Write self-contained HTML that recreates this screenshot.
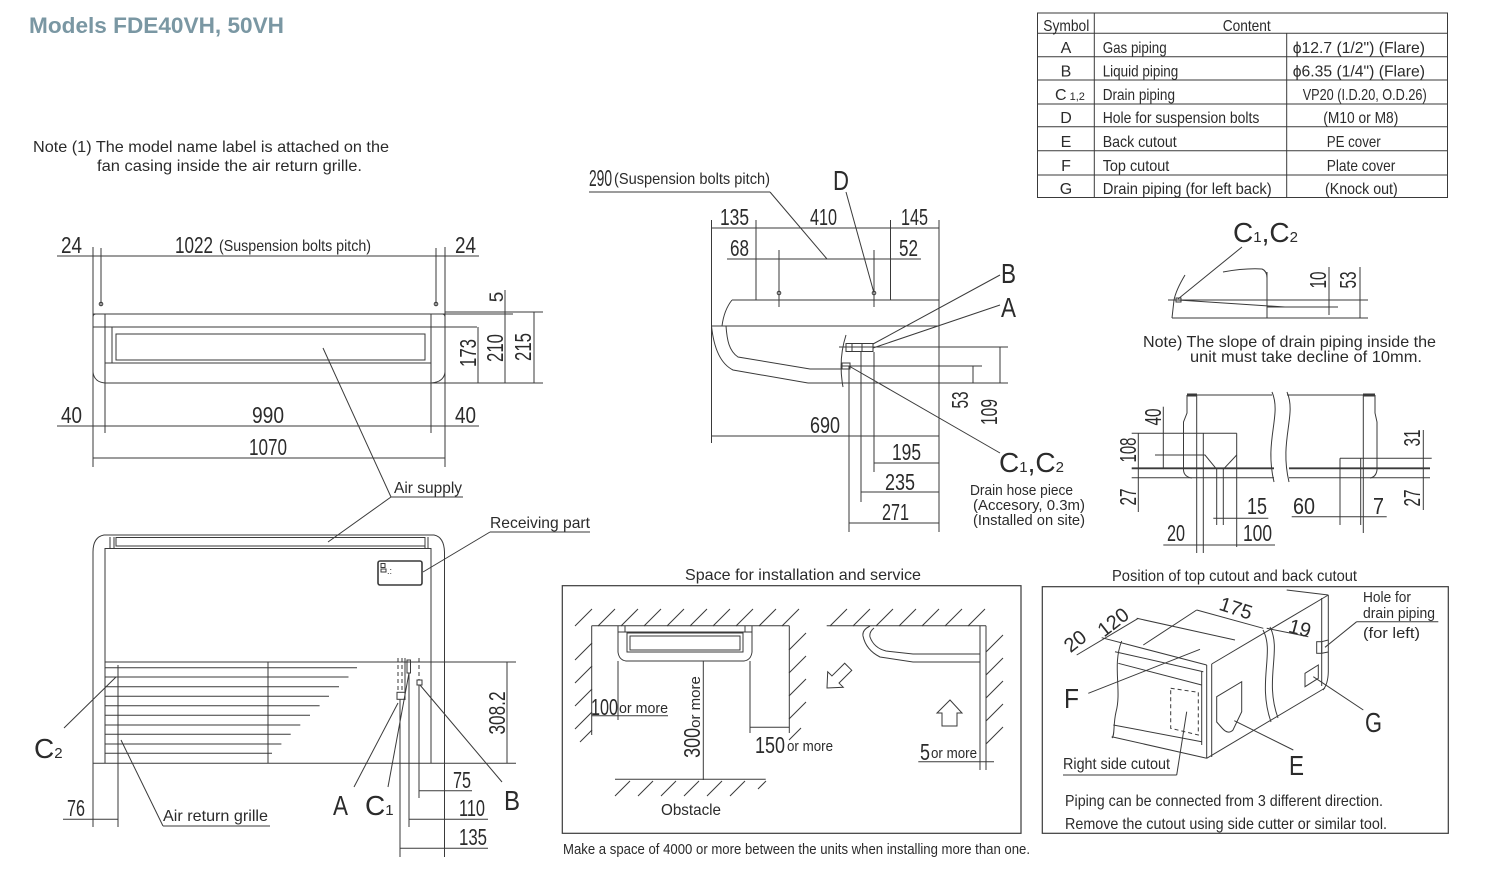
<!DOCTYPE html>
<html><head><meta charset="utf-8"><style>
html,body{margin:0;padding:0;background:#fff;}
svg{display:block}
text{font-family:"Liberation Sans Narrow","Liberation Sans",sans-serif;fill:#2b2b2b}
.s{stroke:#3a3a3a;stroke-width:1;fill:none}
.d{stroke-dasharray:4 3}
</style></head><body>
<svg width="1512" height="888" viewBox="0 0 1512 888" xmlns="http://www.w3.org/2000/svg">
<rect width="1512" height="888" fill="#fff"/>

<!-- Title and note -->
<text x="29" y="33" textLength="255" lengthAdjust="spacingAndGlyphs" style="font-family:'Liberation Sans',sans-serif;font-weight:bold;font-size:22px;fill:#7a97a3">Models  FDE40VH, 50VH</text>
<text x="33" y="152" font-size="16" textLength="356" lengthAdjust="spacingAndGlyphs">Note (1) The model name label is attached on the</text>
<text x="97" y="171" font-size="16" textLength="265" lengthAdjust="spacingAndGlyphs">fan casing inside the air return grille.</text>

<!-- Table -->
<g class="s">
<rect x="1037.5" y="13" width="410" height="184.5"/>
<line x1="1037.5" y1="33.3" x2="1447.5" y2="33.3"/>
<line x1="1037.5" y1="56.7" x2="1447.5" y2="56.7"/>
<line x1="1037.5" y1="80" x2="1447.5" y2="80"/>
<line x1="1037.5" y1="104" x2="1447.5" y2="104"/>
<line x1="1037.5" y1="126.7" x2="1447.5" y2="126.7"/>
<line x1="1037.5" y1="150.7" x2="1447.5" y2="150.7"/>
<line x1="1037.5" y1="175" x2="1447.5" y2="175"/>
<line x1="1094.3" y1="13" x2="1094.3" y2="197.5"/>
<line x1="1286.7" y1="33.3" x2="1286.7" y2="197.5"/>
</g>
<g font-size="16">
<text x="1043.3" y="31" textLength="46" lengthAdjust="spacingAndGlyphs">Symbol</text>
<text x="1222.7" y="31" textLength="48" lengthAdjust="spacingAndGlyphs">Content</text>
<text x="1066" y="53" text-anchor="middle">A</text>
<text x="1066" y="76.5" text-anchor="middle">B</text>
<text x="1055" y="100">C<tspan font-size="11"> 1,2</tspan></text>
<text x="1066" y="123" text-anchor="middle">D</text>
<text x="1066" y="147" text-anchor="middle">E</text>
<text x="1066" y="171" text-anchor="middle">F</text>
<text x="1066" y="194" text-anchor="middle">G</text>
<text x="1102.7" y="53" textLength="64" lengthAdjust="spacingAndGlyphs">Gas piping</text>
<text x="1102.7" y="76.5" textLength="75.6" lengthAdjust="spacingAndGlyphs">Liquid piping</text>
<text x="1102.7" y="100" textLength="72.3" lengthAdjust="spacingAndGlyphs">Drain piping</text>
<text x="1102.7" y="123" textLength="156.6" lengthAdjust="spacingAndGlyphs">Hole for suspension bolts</text>
<text x="1102.7" y="147" textLength="74" lengthAdjust="spacingAndGlyphs">Back cutout</text>
<text x="1102.7" y="171" textLength="66.6" lengthAdjust="spacingAndGlyphs">Top cutout</text>
<text x="1102.7" y="194" textLength="169" lengthAdjust="spacingAndGlyphs">Drain piping  (for left back)</text>
<text x="1292.7" y="53" textLength="132.3" lengthAdjust="spacingAndGlyphs">ϕ12.7 (1/2") (Flare)</text>
<text x="1292.7" y="76.5" textLength="132.3" lengthAdjust="spacingAndGlyphs">ϕ6.35 (1/4") (Flare)</text>
<text x="1302.7" y="100" textLength="124" lengthAdjust="spacingAndGlyphs">VP20 (I.D.20, O.D.26)</text>
<text x="1323.3" y="123" textLength="75" lengthAdjust="spacingAndGlyphs">(M10 or M8)</text>
<text x="1326.7" y="147" textLength="54" lengthAdjust="spacingAndGlyphs">PE cover</text>
<text x="1326.7" y="171" textLength="68.6" lengthAdjust="spacingAndGlyphs">Plate cover</text>
<text x="1325" y="194" textLength="72.7" lengthAdjust="spacingAndGlyphs">(Knock out)</text>
</g>

<!-- ===== Top view (upper left) ===== -->
<g class="s">
<line x1="57" y1="256" x2="479" y2="256"/>
<line x1="93" y1="247" x2="93" y2="467"/>
<line x1="445" y1="247" x2="445" y2="467"/>
<line x1="101" y1="248" x2="101" y2="306"/>
<line x1="436" y1="248" x2="436" y2="306"/>
<circle cx="101" cy="304" r="1.8"/>
<circle cx="436" cy="304" r="1.8"/>
<line x1="93" y1="314" x2="513" y2="314"/>
<line x1="445" y1="312" x2="543" y2="312"/>
<path d="M93,327 L93,317 Q93,314 96,314 L105,314 L105,327"/>
<path d="M445,327 L445,317 Q445,314 442,314 L431,314 L431,327"/>
<line x1="93" y1="327" x2="477" y2="327"/>
<line x1="105" y1="327" x2="105" y2="433"/>
<line x1="431" y1="327" x2="431" y2="433"/>
<line x1="112" y1="327" x2="112" y2="363"/>
<line x1="105" y1="363" x2="431" y2="363"/>
<rect x="116" y="334" width="309" height="26"/>
<path d="M93,327 L93,372 Q94,382 105,383"/>
<path d="M445,327 L445,372 Q444,382 431,383"/>
<line x1="105" y1="383" x2="543" y2="383"/>
<line x1="478" y1="327" x2="478" y2="383"/>
<line x1="505" y1="290" x2="505" y2="383"/>
<line x1="534" y1="312" x2="534" y2="383"/>
<line x1="57" y1="426" x2="479" y2="426"/>
<line x1="93" y1="458" x2="445" y2="458"/>
<line x1="323" y1="348" x2="391" y2="497"/>
<line x1="391" y1="497" x2="463" y2="497"/>
<line x1="391" y1="497" x2="328" y2="542"/>
</g>
<g font-size="23">
<text x="61" y="253" textLength="21" lengthAdjust="spacingAndGlyphs">24</text>
<text x="175" y="253" textLength="38" lengthAdjust="spacingAndGlyphs">1022</text>
<text x="219" y="251" font-size="16" textLength="152" lengthAdjust="spacingAndGlyphs">(Suspension bolts pitch)</text>
<text x="455" y="253" textLength="21" lengthAdjust="spacingAndGlyphs">24</text>
<text transform="translate(496,297) rotate(-90)" text-anchor="middle" y="7" font-size="19">5</text>
<text transform="translate(468,353) rotate(-90)" text-anchor="middle" y="8" textLength="28" lengthAdjust="spacingAndGlyphs">173</text>
<text transform="translate(495,348) rotate(-90)" text-anchor="middle" y="8" textLength="28" lengthAdjust="spacingAndGlyphs">210</text>
<text transform="translate(523,347) rotate(-90)" text-anchor="middle" y="8" textLength="28" lengthAdjust="spacingAndGlyphs">215</text>
<text x="61" y="423" textLength="21" lengthAdjust="spacingAndGlyphs">40</text>
<text x="252" y="423" textLength="32" lengthAdjust="spacingAndGlyphs">990</text>
<text x="455" y="423" textLength="21" lengthAdjust="spacingAndGlyphs">40</text>
<text x="249" y="455" textLength="38" lengthAdjust="spacingAndGlyphs">1070</text>
<text x="394" y="493" font-size="16" textLength="68" lengthAdjust="spacingAndGlyphs">Air supply</text>
</g>

<!-- ===== Front view (lower left) ===== -->
<g class="s">
<path d="M93,763 L93,552 Q93,537 104,535 L434,535 Q444,537 444.5,552 L444.5,763"/>
<line x1="105" y1="548" x2="105" y2="763"/>
<line x1="431" y1="548" x2="431" y2="763"/>
<line x1="110" y1="537" x2="110" y2="548"/>
<line x1="114" y1="537" x2="114" y2="548"/>
<line x1="425" y1="537" x2="425" y2="548"/>
<line x1="428" y1="537" x2="428" y2="548"/>
<rect x="116" y="537.5" width="309" height="8.5"/>
<line x1="105" y1="548.5" x2="431" y2="548.5"/>
<rect x="378" y="561" width="44" height="24" rx="2" stroke-width="1.6"/>
<rect x="381" y="563.5" width="4" height="4"/>
<rect x="381" y="569" width="5" height="3"/>
<line x1="423" y1="572" x2="490" y2="532"/>
<line x1="490" y1="532" x2="590" y2="532"/>
<line x1="105" y1="662" x2="516" y2="662"/>
<line x1="105" y1="667.7" x2="357" y2="667.7"/>
<line x1="105" y1="677" x2="348.5" y2="677"/>
<line x1="105" y1="686.7" x2="339" y2="686.7"/>
<line x1="105" y1="696.3" x2="329" y2="696.3"/>
<line x1="105" y1="705.7" x2="319.6" y2="705.7"/>
<line x1="105" y1="715.3" x2="310" y2="715.3"/>
<line x1="105" y1="725" x2="300.3" y2="725"/>
<line x1="105" y1="734.3" x2="290.7" y2="734.3"/>
<line x1="105" y1="744" x2="281.4" y2="744"/>
<line x1="105" y1="753.3" x2="272" y2="753.3"/>
<line x1="268" y1="662" x2="268" y2="763"/>
<line x1="118" y1="665" x2="118" y2="827"/>
<line x1="93" y1="763.3" x2="516" y2="763.3"/>
<line x1="507" y1="662" x2="507" y2="763"/>
<line x1="398" y1="658" x2="398" y2="692" class="s d"/>
<line x1="402" y1="658" x2="402" y2="692" class="s d"/>
<line x1="405" y1="658" x2="405" y2="700"/>
<rect x="407" y="660" width="3.5" height="13"/>
<rect x="397" y="692.3" width="8" height="7"/>
<line x1="419" y1="658" x2="419" y2="680" class="s d"/>
<rect x="417" y="680" width="5" height="5"/>
<line x1="419" y1="685" x2="419" y2="798"/>
<line x1="400" y1="699" x2="400" y2="857"/>
<line x1="409" y1="673" x2="409" y2="827"/>
<line x1="444.5" y1="763" x2="444.5" y2="857"/>
<line x1="419" y1="790.7" x2="472" y2="790.7"/>
<line x1="409" y1="819.3" x2="488" y2="819.3"/>
<line x1="400" y1="848.3" x2="488" y2="848.3"/>
<line x1="93" y1="763" x2="93" y2="827"/>
<line x1="63" y1="819.3" x2="118" y2="819.3"/>
<line x1="398" y1="703" x2="354" y2="787"/>
<line x1="409" y1="673" x2="388" y2="787"/>
<line x1="420" y1="685" x2="502" y2="782"/>
<line x1="116" y1="677" x2="64" y2="728"/>
<line x1="121" y1="740" x2="163" y2="826"/>
<line x1="163" y1="826" x2="270" y2="826"/>
</g>
<text x="387" y="574" font-size="9">.:</text>
<g font-size="23">
<text x="490" y="528" font-size="16" textLength="100" lengthAdjust="spacingAndGlyphs">Receiving part</text>
<text transform="translate(497,713) rotate(-90)" text-anchor="middle" y="8" textLength="43" lengthAdjust="spacingAndGlyphs">308.2</text>
<text x="453" y="788" textLength="18" lengthAdjust="spacingAndGlyphs">75</text>
<text x="459" y="816" textLength="26" lengthAdjust="spacingAndGlyphs">110</text>
<text x="459" y="845" textLength="28" lengthAdjust="spacingAndGlyphs">135</text>
<text x="67" y="816" textLength="18" lengthAdjust="spacingAndGlyphs">76</text>
<text x="333" y="815" font-size="28" textLength="15" lengthAdjust="spacingAndGlyphs">A</text>
<text x="365" y="815" font-size="28">C<tspan font-size="15">1</tspan></text>
<text x="504" y="810" font-size="28" textLength="16" lengthAdjust="spacingAndGlyphs">B</text>
<text x="34" y="758" font-size="28">C<tspan font-size="15">2</tspan></text>
<text x="163" y="821" font-size="16" textLength="105" lengthAdjust="spacingAndGlyphs">Air return grille</text>
</g>

<!-- ===== Side view (middle) ===== -->
<g class="s">
<line x1="589" y1="192" x2="770" y2="192"/>
<line x1="770" y1="192" x2="827" y2="259"/>
<line x1="846" y1="192" x2="874" y2="293"/>
<line x1="711.5" y1="228" x2="939" y2="228"/>
<line x1="711.5" y1="220" x2="711.5" y2="443"/>
<line x1="756" y1="220" x2="756" y2="300"/>
<line x1="890.5" y1="220" x2="890.5" y2="300"/>
<line x1="939" y1="220" x2="939" y2="532"/>
<line x1="727" y1="259" x2="921" y2="259"/>
<line x1="779" y1="250" x2="779" y2="307"/>
<line x1="874" y1="250" x2="874" y2="307"/>
<circle cx="779" cy="293" r="1.8"/>
<circle cx="874" cy="293" r="1.8"/>
<line x1="732" y1="300" x2="939" y2="300"/>
<path d="M732,300 Q724,310 722,326"/>
<line x1="711.5" y1="326" x2="939" y2="326"/>
<path d="M711.5,326 C714,350 721,364 733,370 L808,383"/>
<line x1="808" y1="383" x2="1008" y2="383"/>
<path d="M726,326 C727,340 729,351 738,357 L810,369 L841,369"/>
<line x1="839" y1="347" x2="1008" y2="347"/>
<rect x="846" y="343.5" width="27" height="8"/>
<line x1="852" y1="343.5" x2="852" y2="351.5"/>
<line x1="862" y1="343.5" x2="862" y2="351.5"/>
<path d="M846,335 Q838,360 843,387"/>
<line x1="841" y1="366" x2="982" y2="366"/>
<rect x="842" y="363" width="8" height="6"/>
<line x1="849" y1="366" x2="849" y2="532"/>
<line x1="861" y1="352" x2="861" y2="502"/>
<line x1="874" y1="352" x2="874" y2="472"/>
<line x1="973" y1="366" x2="973" y2="383"/>
<line x1="1000" y1="347" x2="1000" y2="383"/>
<line x1="711.5" y1="436" x2="939" y2="436"/>
<line x1="874" y1="463" x2="939" y2="463"/>
<line x1="861" y1="492" x2="939" y2="492"/>
<line x1="849" y1="523" x2="939" y2="523"/>
<line x1="873" y1="344" x2="1000" y2="275"/>
<line x1="873" y1="348" x2="1000" y2="305"/>
<line x1="849" y1="366" x2="1000" y2="453"/>
</g>
<g font-size="23">
<text x="589" y="186" textLength="23" lengthAdjust="spacingAndGlyphs">290</text>
<text x="614" y="184" font-size="16" textLength="156" lengthAdjust="spacingAndGlyphs">(Suspension bolts pitch)</text>
<text x="833" y="190" font-size="28" textLength="16" lengthAdjust="spacingAndGlyphs">D</text>
<text x="720" y="225" textLength="29" lengthAdjust="spacingAndGlyphs">135</text>
<text x="810" y="225" textLength="27" lengthAdjust="spacingAndGlyphs">410</text>
<text x="901" y="225" textLength="27" lengthAdjust="spacingAndGlyphs">145</text>
<text x="730" y="256" textLength="19" lengthAdjust="spacingAndGlyphs">68</text>
<text x="899" y="256" textLength="19" lengthAdjust="spacingAndGlyphs">52</text>
<text x="1001" y="283" font-size="28" textLength="15" lengthAdjust="spacingAndGlyphs">B</text>
<text x="1001" y="317" font-size="28" textLength="15" lengthAdjust="spacingAndGlyphs">A</text>
<text transform="translate(960,400) rotate(-90)" text-anchor="middle" y="8" textLength="17" lengthAdjust="spacingAndGlyphs">53</text>
<text transform="translate(989,412) rotate(-90)" text-anchor="middle" y="8" textLength="26" lengthAdjust="spacingAndGlyphs">109</text>
<text x="810" y="433" textLength="30" lengthAdjust="spacingAndGlyphs">690</text>
<text x="892" y="460" textLength="29" lengthAdjust="spacingAndGlyphs">195</text>
<text x="885" y="490" textLength="30" lengthAdjust="spacingAndGlyphs">235</text>
<text x="882" y="520" textLength="27" lengthAdjust="spacingAndGlyphs">271</text>
<text x="999" y="472" font-size="28">C<tspan font-size="15">1</tspan>,C<tspan font-size="15">2</tspan></text>
<text x="970" y="495" font-size="15" textLength="103" lengthAdjust="spacingAndGlyphs">Drain hose piece</text>
<text x="973" y="510" font-size="15" textLength="112" lengthAdjust="spacingAndGlyphs">(Accesory, 0.3m)</text>
<text x="973" y="525" font-size="15" textLength="112" lengthAdjust="spacingAndGlyphs">(Installed on site)</text>
</g>

<!-- ===== Slope detail (upper right) ===== -->
<g class="s">
<line x1="1168" y1="300" x2="1368" y2="300"/>
<line x1="1178" y1="300" x2="1285" y2="307"/>
<line x1="1267" y1="307" x2="1338" y2="307"/>
<line x1="1267" y1="272" x2="1267" y2="318"/>
<path d="M1223,272 Q1245,268 1262,269 Q1267,271 1267,278"/>
<line x1="1172" y1="318" x2="1368" y2="318"/>
<path d="M1185,275 Q1176,290 1174,300 L1172,318"/>
<rect x="1176" y="298" width="5" height="4"/>
<line x1="1242" y1="247" x2="1178" y2="299"/>
<line x1="1329" y1="267" x2="1329" y2="315"/>
<line x1="1360" y1="267" x2="1360" y2="318"/>
</g>
<g font-size="23">
<text x="1233" y="242" font-size="28">C<tspan font-size="15">1</tspan>,C<tspan font-size="15">2</tspan></text>
<text transform="translate(1318,280) rotate(-90)" text-anchor="middle" y="8" textLength="17" lengthAdjust="spacingAndGlyphs">10</text>
<text transform="translate(1348,280) rotate(-90)" text-anchor="middle" y="8" textLength="17" lengthAdjust="spacingAndGlyphs">53</text>
<text x="1143" y="347" font-size="16" textLength="293" lengthAdjust="spacingAndGlyphs">Note) The slope of drain piping inside the</text>
<text x="1190" y="362" font-size="16" textLength="232" lengthAdjust="spacingAndGlyphs">unit must take decline of 10mm.</text>
</g>

<!-- ===== Bottom detail (right) ===== -->
<g class="s">
<line x1="1187" y1="395" x2="1272" y2="395"/>
<line x1="1287" y1="395" x2="1373" y2="395"/>
<line x1="1187" y1="395" x2="1197" y2="395" stroke-width="3"/>
<line x1="1363" y1="395" x2="1375" y2="395" stroke-width="3"/>
<path d="M1187,395 L1187,413 L1183.5,422 L1183.5,470 Q1184,477 1192,478"/>
<line x1="1196.7" y1="395" x2="1196.7" y2="553"/>
<path d="M1375,395 L1375,413 L1377,422 L1377,470 Q1376,477 1370,478"/>
<line x1="1363.3" y1="395" x2="1363.3" y2="533"/>
<line x1="1131.7" y1="477.7" x2="1274" y2="477.7"/>
<line x1="1289" y1="477.7" x2="1430" y2="477.7"/>
<line x1="1131.7" y1="468.3" x2="1274" y2="468.3" stroke-width="1.8"/>
<line x1="1289" y1="468.3" x2="1430" y2="468.3" stroke-width="1.8"/>
<path d="M1272,392 C1282,415 1264,440 1274,482"/>
<path d="M1287,392 C1297,415 1279,440 1289,482"/>
<line x1="1131.7" y1="433.3" x2="1236.7" y2="433.3"/>
<line x1="1236.7" y1="433.3" x2="1236.7" y2="547"/>
<line x1="1203.3" y1="433.3" x2="1203.3" y2="553"/>
<path d="M1155,455 L1205,455 L1216.7,469.3"/>
<line x1="1236.7" y1="455" x2="1223.3" y2="469.3"/>
<line x1="1216.7" y1="469" x2="1216.7" y2="525"/>
<line x1="1223.3" y1="469" x2="1223.3" y2="525"/>
<line x1="1138.3" y1="433.3" x2="1138.3" y2="512"/>
<line x1="1163.3" y1="406.7" x2="1163.3" y2="468.3"/>
<line x1="1213.3" y1="518.3" x2="1268.3" y2="518.3"/>
<line x1="1163.3" y1="545" x2="1275" y2="545"/>
<line x1="1340" y1="458.3" x2="1431.7" y2="458.3"/>
<line x1="1340" y1="458.3" x2="1340" y2="525"/>
<line x1="1360.7" y1="458.3" x2="1360.7" y2="525"/>
<line x1="1423.3" y1="430" x2="1423.3" y2="510"/>
<line x1="1291.7" y1="516.7" x2="1386.7" y2="516.7"/>
</g>
<g font-size="23">
<text transform="translate(1128,450) rotate(-90)" text-anchor="middle" y="8" textLength="25" lengthAdjust="spacingAndGlyphs">108</text>
<text transform="translate(1128,497) rotate(-90)" text-anchor="middle" y="8" textLength="17" lengthAdjust="spacingAndGlyphs">27</text>
<text transform="translate(1153,417) rotate(-90)" text-anchor="middle" y="8" textLength="17" lengthAdjust="spacingAndGlyphs">40</text>
<text transform="translate(1412,438) rotate(-90)" text-anchor="middle" y="8" textLength="17" lengthAdjust="spacingAndGlyphs">31</text>
<text transform="translate(1412,498) rotate(-90)" text-anchor="middle" y="8" textLength="17" lengthAdjust="spacingAndGlyphs">27</text>
<text x="1247" y="514" textLength="20" lengthAdjust="spacingAndGlyphs">15</text>
<text x="1167" y="541" textLength="18" lengthAdjust="spacingAndGlyphs">20</text>
<text x="1243" y="541" textLength="29" lengthAdjust="spacingAndGlyphs">100</text>
<text x="1293" y="514" textLength="22" lengthAdjust="spacingAndGlyphs">60</text>
<text x="1373" y="514" textLength="11" lengthAdjust="spacingAndGlyphs">7</text>
</g>

<!-- ===== Space for installation ===== -->
<text x="685" y="580" font-size="16" textLength="236" lengthAdjust="spacingAndGlyphs">Space for installation and service</text>
<g class="s">
<rect x="562.3" y="585.7" width="458.7" height="247.6" stroke-width="1.2"/>
<line x1="591.7" y1="625.7" x2="789.3" y2="625.7"/>
<line x1="591.7" y1="625.7" x2="591.7" y2="735"/>
<line x1="789.3" y1="625.7" x2="789.3" y2="733"/>
<!-- hatch top -->
<path d="M575,626 l17,-17 M598,626 l17,-17 M621,626 l17,-17 M644,626 l17,-17 M667,626 l17,-17 M690,626 l17,-17 M713,626 l17,-17 M736,626 l17,-17 M759,626 l17,-17 M782,626 l17,-17"/>
<path d="M575,660 l17,-17 M575,683 l17,-17 M575,706 l17,-17 M575,729 l17,-17 M580,742 l12,-12"/>
<path d="M789,650 l17,-17 M789,673 l17,-17 M789,696 l17,-17 M789,719 l17,-17 M789,740 l12,-12"/>
<!-- unit -->
<path d="M618,626 L618,652 Q619,660 626,661 L744,661 Q751,660 752,652 L752,626"/>
<line x1="618" y1="632" x2="752" y2="632"/>
<line x1="625" y1="626" x2="625" y2="632"/>
<line x1="745" y1="626" x2="745" y2="632"/>
<rect x="627" y="633" width="116" height="19"/>
<rect x="630" y="636" width="110" height="14"/>
<line x1="703.3" y1="661" x2="703.3" y2="780"/>
<line x1="615" y1="779.3" x2="765.7" y2="779.3"/>
<path d="M630,781 l-15,15 M653,781 l-15,15 M676,781 l-15,15 M699,781 l-15,15 M722,781 l-15,15 M745,781 l-15,15 M766,781 l-8,8"/>
<line x1="618" y1="661" x2="618" y2="720"/>
<line x1="591.7" y1="715.7" x2="668" y2="715.7"/>
<line x1="750" y1="661" x2="750" y2="733"/>
<line x1="750" y1="727.3" x2="789.3" y2="727.3"/>
<!-- right diagram -->
<line x1="826.7" y1="625.7" x2="986" y2="625.7"/>
<line x1="980" y1="625.7" x2="980" y2="770"/>
<line x1="986" y1="625.7" x2="986" y2="770"/>
<path d="M830,626 l17,-17 M853,626 l17,-17 M876,626 l17,-17 M899,626 l17,-17 M922,626 l17,-17 M945,626 l17,-17 M968,626 l17,-17"/>
<path d="M986,652 l17,-17 M986,675 l17,-17 M986,698 l17,-17 M986,721 l17,-17 M986,744 l17,-17"/>
<path d="M870,626 Q862,630 863,636 Q866,650 880,657 L913,662 L980,662"/>
<path d="M874,628 Q869,632 870,637 Q874,648 886,651 L913,654 L980,654"/>
<polygon points="0,0 12,-11 12,-5 30,-5 30,5 12,5 12,11" transform="translate(827,688) rotate(-45)"/>
<polygon points="950,700 962,713 957,713 957,726 942,726 942,713 937,713"/>
<line x1="918.3" y1="761.7" x2="994" y2="761.7"/>
</g>
<g font-size="23">
<text transform="translate(692,717) rotate(-90)" text-anchor="middle" y="8"><tspan textLength="30" lengthAdjust="spacingAndGlyphs">300</tspan><tspan font-size="15">or more</tspan></text>
<text x="661" y="815" font-size="16" textLength="60" lengthAdjust="spacingAndGlyphs">Obstacle</text>
<text x="591" y="715" textLength="27" lengthAdjust="spacingAndGlyphs">100</text>
<text x="619" y="713" font-size="15" textLength="49" lengthAdjust="spacingAndGlyphs">or more</text>
<text x="755" y="753" textLength="30" lengthAdjust="spacingAndGlyphs">150</text>
<text x="787" y="751" font-size="15" textLength="46" lengthAdjust="spacingAndGlyphs">or more</text>
<text x="920" y="760" textLength="10" lengthAdjust="spacingAndGlyphs">5</text>
<text x="931" y="758" font-size="15" textLength="46" lengthAdjust="spacingAndGlyphs">or more</text>
</g>
<text x="563" y="854" font-size="15" textLength="467" lengthAdjust="spacingAndGlyphs">Make a space of 4000 or more between the units when installing more than one.</text>

<!-- ===== Position of top cutout ===== -->
<text x="1112" y="581" font-size="16" textLength="245" lengthAdjust="spacingAndGlyphs">Position of top cutout and back cutout</text>
<g class="s">
<rect x="1042.3" y="586.7" width="406" height="246.6" stroke-width="1.2"/>
<line x1="1101.7" y1="637.7" x2="1206.7" y2="665"/>
<line x1="1115" y1="651.7" x2="1203.3" y2="671.7"/>
<line x1="1118.3" y1="663.3" x2="1201.7" y2="685"/>
<line x1="1113.3" y1="725" x2="1201.7" y2="741.7"/>
<line x1="1111.7" y1="736.7" x2="1206.7" y2="758.3"/>
<path d="M1121.7,641 C1112,665 1122,690 1116,712 C1113,725 1115,735 1112,738"/>
<line x1="1201.7" y1="671" x2="1201.7" y2="745"/>
<line x1="1206.7" y1="665" x2="1206.7" y2="758.3"/>
<line x1="1211.7" y1="664" x2="1211.7" y2="757"/>
<line x1="1211.7" y1="664" x2="1328.3" y2="595"/>
<line x1="1206.7" y1="758.3" x2="1325" y2="688"/>
<path d="M1328.3,595 L1328.3,672 Q1328,684 1323,690"/>
<line x1="1321.7" y1="598" x2="1321.7" y2="686"/>
<line x1="1286.7" y1="590" x2="1328.3" y2="595"/>
<line x1="1143.3" y1="645" x2="1196.7" y2="610"/>
<line x1="1076.7" y1="655" x2="1138.3" y2="618.3"/>
<line x1="1136.7" y1="618.3" x2="1235" y2="640"/>
<line x1="1196.7" y1="610" x2="1263.3" y2="628.3"/>
<line x1="1266.7" y1="628.3" x2="1308.3" y2="636.7"/>
<path d="M1263,630 C1275,652 1257,682 1271,722"/>
<path d="M1270,627 C1282,650 1264,680 1278,718"/>
<path d="M1216.7,696.7 L1241.7,681.7 L1241.7,711.7 L1233,730 Q1228,735 1222,728 L1216.7,722 Z"/>
<polygon points="1305,673.3 1318.3,665 1318.3,678.3 1305,686.7"/>
<rect x="1316.7" y="641.7" width="5" height="11.6"/>
<line x1="1321.7" y1="641.7" x2="1328.3" y2="640"/>
<line x1="1321.7" y1="653.3" x2="1328.3" y2="652"/>
<polygon points="1170.7,688.3 1198.3,692.3 1198.3,735 1170.7,728.3" class="s d"/>
<line x1="1088.3" y1="693.3" x2="1200" y2="649.3"/>
<line x1="1234.3" y1="720.7" x2="1293.3" y2="750"/>
<line x1="1313.3" y1="676.7" x2="1363.3" y2="710"/>
<line x1="1186.7" y1="711.7" x2="1176.7" y2="775"/>
<line x1="1063" y1="775" x2="1176.7" y2="775"/>
<line x1="1356.7" y1="621.7" x2="1438.3" y2="621.7"/>
<line x1="1356.7" y1="621.7" x2="1325" y2="647.3"/>
</g>
<g font-size="23">
<text transform="translate(1075,641) rotate(-38)" text-anchor="middle" y="7" font-size="20">20</text>
<text transform="translate(1113,622) rotate(-38)" text-anchor="middle" y="7" font-size="20">120</text>
<text transform="translate(1236,608) rotate(18)" text-anchor="middle" y="7" font-size="20">175</text>
<text transform="translate(1300,628) rotate(15)" text-anchor="middle" y="7" font-size="20">19</text>
<text x="1064" y="708" font-size="28" textLength="15" lengthAdjust="spacingAndGlyphs">F</text>
<text x="1289" y="775" font-size="28" textLength="15" lengthAdjust="spacingAndGlyphs">E</text>
<text x="1365" y="732" font-size="28" textLength="17" lengthAdjust="spacingAndGlyphs">G</text>
<text x="1063" y="769" font-size="16" textLength="107" lengthAdjust="spacingAndGlyphs">Right side cutout</text>
<text x="1363" y="602" font-size="15" textLength="48" lengthAdjust="spacingAndGlyphs">Hole for</text>
<text x="1363" y="618" font-size="15" textLength="72" lengthAdjust="spacingAndGlyphs">drain piping</text>
<text x="1363" y="638" font-size="15" textLength="57" lengthAdjust="spacingAndGlyphs">(for left)</text>
<text x="1065" y="806" font-size="16" textLength="318" lengthAdjust="spacingAndGlyphs">Piping can be connected from 3 different direction.</text>
<text x="1065" y="829" font-size="16" textLength="322" lengthAdjust="spacingAndGlyphs">Remove the cutout using side cutter or similar tool.</text>
</g>
</svg>
</body></html>
